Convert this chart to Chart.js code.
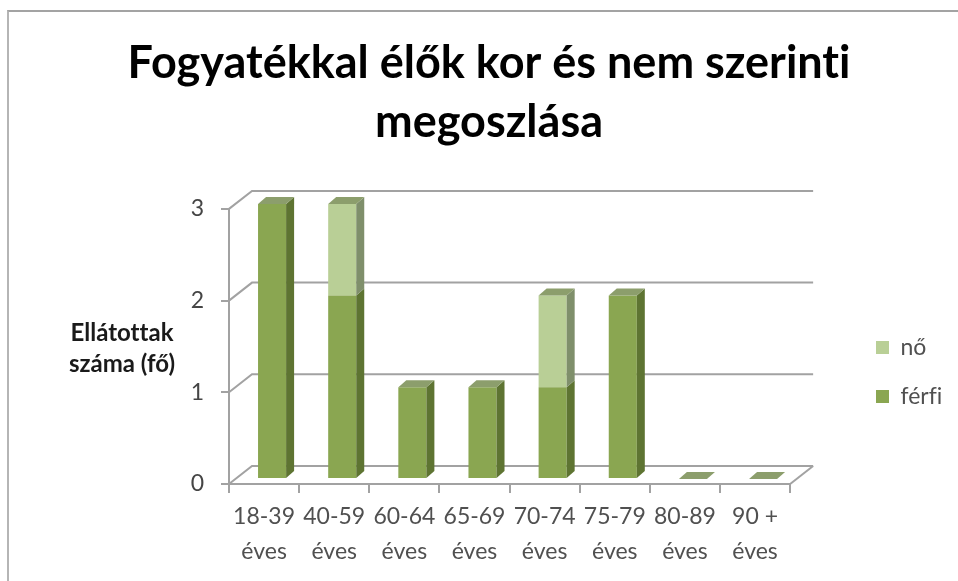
<!DOCTYPE html>
<html lang="hu">
<head>
<meta charset="utf-8">
<title>Fogyatékkal élők</title>
<script src="https://cdn.jsdelivr.net/npm/chart.js@4"></script>
<style>
    html, body { margin: 0; padding: 0; background: #fff; overflow: hidden; }
    #frame { position: absolute; left: 7px; top: 10px; width: 951px; height: 571px; border-top: 2px solid #a3a3a3; border-left: 2px solid #b5b5b5; box-sizing: border-box; }
    #chart { position: absolute; left: 0; top: 0; }
</style>
</head>
<body>
<div id="frame"></div>
<canvas id="chart" width="958" height="581"></canvas>
<script>
const titleLines = ["Fogyatékkal élők kor és nem szerinti", "megoszlása"];
const yTitleLines = ["Ellátottak", "száma (fő)"];
const categories = [
    ["18-39", "éves"], ["40-59", "éves"], ["60-64", "éves"], ["65-69", "éves"],
    ["70-74", "éves"], ["75-79", "éves"], ["80-89", "éves"], ["90 +", "éves"]
];
const ferfi = [3, 2, 1, 1, 1, 2, 0, 0];
const no = [0, 1, 0, 0, 1, 0, 0, 0];
const yTicks = [0, 1, 2, 3];

const colors = {
    ferfi: "#8aa651", ferfiSide: "#5e7432",
    no: "#b9cf96", noSide: "#7f8f6b",
    top: "#8c9e6c", grid: "#a2a2a2", text: "#505050"
};

// a 3D hatás: hátfal, rácsvonalak, oszlopok oldala és teteje
const depth = { x: 23, y: -18 };
const barShift = { x: 8, y: -5 };
const barDepth = { x: 8, y: -7 };

function quad(ctx, pts, fill) {
    ctx.beginPath();
    pts.forEach((p, i) => i ? ctx.lineTo(p[0], p[1]) : ctx.moveTo(p[0], p[1]));
    ctx.closePath();
    ctx.fillStyle = fill;
    ctx.fill();
}

const fake3d = {
    id: "fake3d",
    afterLayout(chart) {
        const lg = chart.legend;
        const h = lg.bottom - lg.top;
        lg.top = 372 - h / 2;
        lg.bottom = lg.top + h;
        lg.left = 876 - lg.options.labels.padding;
        lg.right = 958;
        // a cím a teljes szélességre van középre igazítva
        chart.titleBlock.left = 20;
        chart.titleBlock.right = 958;
    },
    beforeDraw(chart) {
        // ligatúrák nélkül, mint az eredetin
        chart.ctx.textRendering = "optimizeSpeed";
    },
    beforeDatasetsDraw(chart) {
        const { ctx, chartArea: a, scales: { y } } = chart;
        ctx.save();
        ctx.strokeStyle = colors.grid;
        ctx.lineWidth = 2;
        yTicks.forEach(v => {
            const py = y.getPixelForValue(v);
            ctx.beginPath();
            ctx.moveTo(a.left, py);
            ctx.lineTo(a.left + depth.x, py + depth.y);
            ctx.lineTo(a.right + depth.x, py + depth.y);
            ctx.stroke();
        });
        const py0 = y.getPixelForValue(0);
        ctx.beginPath();
        ctx.moveTo(a.right, py0);
        ctx.lineTo(a.right + depth.x, py0 + depth.y);
        ctx.stroke();
        ctx.restore();
        ctx.save();
        ctx.translate(barShift.x, barShift.y);
    },
    afterDatasetsDraw(chart) {
        const { ctx } = chart;
        const dx = barDepth.x, dy = barDepth.y;
        const metaF = chart.getDatasetMeta(0).data;
        const metaN = chart.getDatasetMeta(1).data;
        categories.forEach((c, i) => {
            [[metaF[i], ferfi[i], colors.ferfiSide], [metaN[i], no[i], colors.noSide]].forEach(([bar, val, col]) => {
                if (!val) return;
                const r = bar.x + bar.width / 2;
                quad(ctx, [[r, bar.y], [r + dx, bar.y + dy], [r + dx, bar.base + dy], [r, bar.base]], col);
            });
            const t = no[i] ? metaN[i] : metaF[i];
            const l = t.x - t.width / 2, r = t.x + t.width / 2;
            quad(ctx, [[l, t.y], [l + dx, t.y + dy], [r + dx, t.y + dy], [r, t.y]], colors.top);
        });
        ctx.restore();
    },
    afterDraw(chart) {
        const { ctx } = chart;
        ctx.save();
        ctx.font = "bold 24px Lato";
        ctx.fillStyle = "#1a1a1a";
        ctx.textAlign = "center";
        ctx.textBaseline = "middle";
        ctx.fillText(yTitleLines[0], 122, 333);
        ctx.fillText(yTitleLines[1], 122, 364);
        ctx.restore();
    }
};

new Chart(document.getElementById("chart"), {
    type: "bar",
    data: {
        labels: categories,
        datasets: [
            { label: "férfi", data: ferfi, backgroundColor: colors.ferfi, clip: false },
            { label: "nő", data: no, backgroundColor: colors.no, clip: false }
        ]
    },
    options: {
        responsive: false,
        animation: false,
        barPercentage: 0.4,
        categoryPercentage: 1,
        layout: { padding: { left: 20, right: 66, top: 0, bottom: 0 } },
        plugins: {
            title: {
                display: true,
                text: titleLines,
                color: "#000",
                font: { family: "Lato", size: 45, weight: "bold", lineHeight: 1.31 },
                padding: { top: 34, bottom: 57 }
            },
            legend: {
                position: "right",
                reverse: true,
                labels: {
                    color: colors.text,
                    font: { family: "Lato", size: 23 },
                    boxWidth: 13,
                    boxHeight: 13,
                    padding: 26
                }
            },
            tooltip: { enabled: false }
        },
        scales: {
            x: {
                stacked: true,
                afterFit: s => { s.height = 97; },
                grid: { drawOnChartArea: false, color: colors.grid, lineWidth: 2, tickLength: 9 },
                border: { color: colors.grid, width: 2 },
                ticks: {
                    color: colors.text,
                    autoSkip: false,
                    maxRotation: 0,
                    padding: 6,
                    font: { family: "Lato", size: 23, lineHeight: 1.52 }
                }
            },
            y: {
                stacked: true,
                min: 0,
                max: 3,
                afterFit: s => { s.width = 209; },
                grid: { drawOnChartArea: false, color: colors.grid, lineWidth: 2, tickLength: 8 },
                border: { color: colors.grid, width: 2 },
                ticks: {
                    stepSize: 1,
                    color: "#454545",
                    padding: 17,
                    font: { family: "Lato", size: 23 }
                }
            }
        }
    },
    plugins: [fake3d]
});
</script>
</body>
</html>
